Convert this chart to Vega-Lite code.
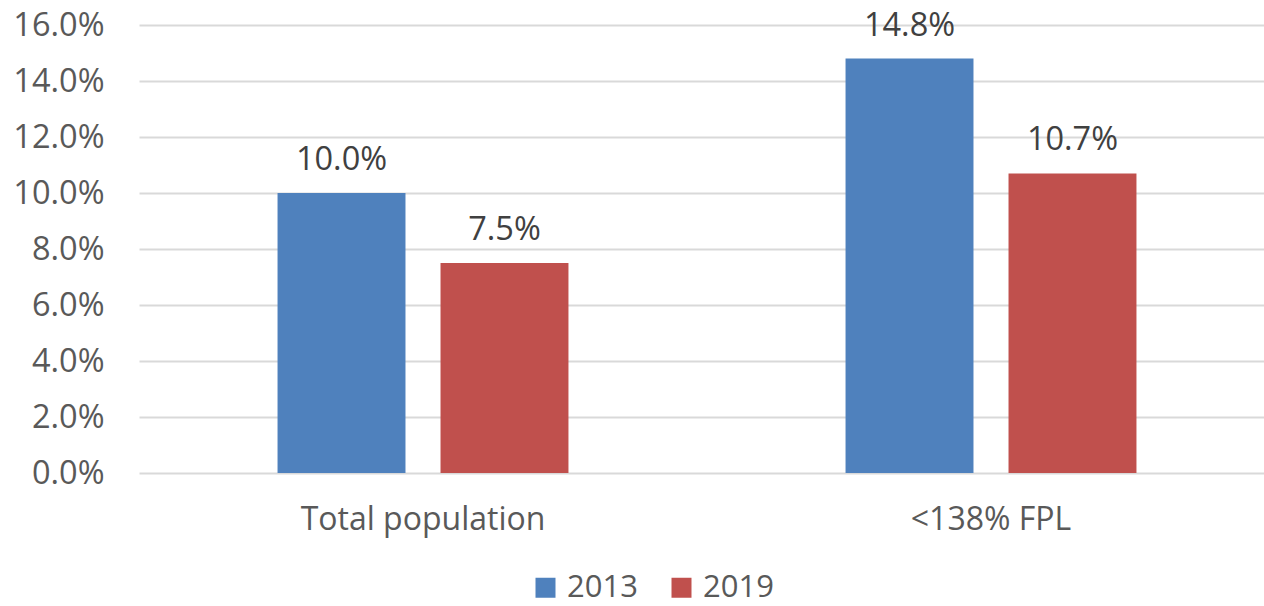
{
  "$schema": "https://vega.github.io/schema/vega-lite/v6.json",
  "autosize": "none",
  "width": 1136,
  "height": 448,
  "padding": {"left": 139, "top": 25, "right": 0, "bottom": 133},
  "background": "white",
  "config": {
    "view": {"stroke": null},
    "font": "Open Sans"
  },
  "data": {
    "values": [
      {"group": "Total population", "year": "2013", "value": 0.100},
      {"group": "Total population", "year": "2019", "value": 0.075},
      {"group": "<138% FPL", "year": "2013", "value": 0.148},
      {"group": "<138% FPL", "year": "2019", "value": 0.107}
    ]
  },
  "encoding": {
    "x": {
      "field": "group",
      "type": "nominal",
      "sort": ["Total population", "<138% FPL"],
      "scale": {"paddingInner": 0, "paddingOuter": 0},
      "axis": {
        "title": null,
        "labelAngle": 0,
        "labelFontSize": 32,
        "labelColor": "#595959",
        "labelPadding": 31,
        "labelLimit": 0,
        "ticks": false,
        "domain": false
      }
    },
    "xOffset": {
      "field": "year",
      "type": "nominal",
      "scale": {"paddingInner": 0.215, "paddingOuter": 0.85}
    },
    "y": {
      "field": "value",
      "type": "quantitative",
      "scale": {"domain": [0, 0.16]},
      "axis": {
        "title": null,
        "format": ".1%",
        "values": [0, 0.02, 0.04, 0.06, 0.08, 0.10, 0.12, 0.14, 0.16],
        "labelFontSize": 32.5,
        "labelColor": "#595959",
        "labelPadding": 35,
        "ticks": false,
        "domain": false,
        "grid": true,
        "gridColor": "#D9D9D9",
        "gridWidth": 2
      }
    }
  },
  "layer": [
    {
      "mark": {"type": "bar"},
      "encoding": {
        "color": {
          "field": "year",
          "type": "nominal",
          "scale": {"domain": ["2013", "2019"], "range": ["#4F81BD", "#C0504D"]},
          "legend": {
            "title": null,
            "orient": "none",
            "direction": "horizontal",
            "legendX": 391,
            "legendY": 547,
            "symbolType": "square",
            "symbolSize": 400,
            "symbolStrokeWidth": 0,
            "labelFontSize": 31,
            "labelColor": "#595959",
            "labelOffset": 6,
            "columnPadding": 28
          }
        }
      }
    },
    {
      "mark": {"type": "text", "baseline": "alphabetic", "dy": -23, "fontSize": 32.5, "color": "#404040"},
      "encoding": {
        "text": {"field": "value", "type": "quantitative", "format": ".1%"}
      }
    }
  ]
}
